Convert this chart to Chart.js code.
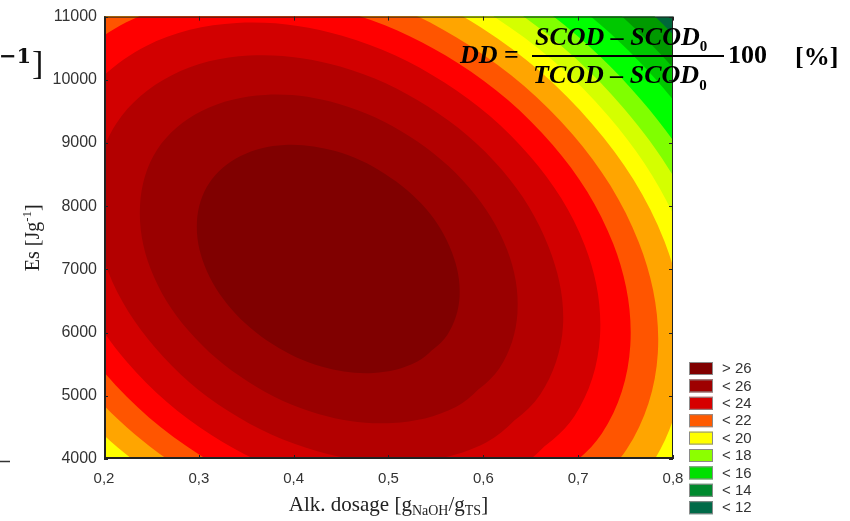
<!DOCTYPE html>
<html>
<head>
<meta charset="utf-8">
<script src="https://cdn.jsdelivr.net/npm/chart.js@4.4.1/dist/chart.umd.min.js"></script>
<style>
  html, body { margin: 0; padding: 0; background: #fff; }
  canvas { display: block; }
</style>
</head>
<body>
<canvas id="chart" width="850" height="521"></canvas>
<script>
// axis ticks
const xTicks = [0.2, 0.3, 0.4, 0.5, 0.6, 0.7, 0.8];
const yTicks = [4000, 5000, 6000, 7000, 8000, 9000, 10000, 11000];

// legend as printed next to the plot
const legendLabels = ['> 26', '< 26', '< 24', '< 22', '< 20', '< 18', '< 16', '< 14', '< 12'];
const legendColors = ['#800000', '#9e0000', '#d60000', '#ff5a00', '#ffff00', '#8cff00', '#00e000', '#008a2e', '#006a48'];

// contour lines, [alk. dosage, Es], innermost first
const c0 = [[0.562, 5962], [0.530, 5537], [0.484, 5360], [0.430, 5458], [0.378, 5815], [0.334, 6378], [0.306, 7061], [0.298, 7760],
  [0.311, 8368], [0.344, 8793], [0.390, 8970], [0.444, 8872], [0.496, 8515], [0.540, 7952], [0.567, 7269], [0.575, 6570]];
const c1 = [[0.617, 5435], [0.571, 4823], [0.504, 4569], [0.427, 4709], [0.352, 5223], [0.289, 6033], [0.249, 7016], [0.238, 8020],
  [0.256, 8895], [0.303, 9507], [0.370, 9761], [0.447, 9621], [0.522, 9107], [0.585, 8297], [0.625, 7314], [0.636, 6310]];
const c2 = [[0.660, 5020], [0.603, 4262], [0.520, 3947], [0.425, 4121], [0.331, 4758], [0.254, 5762], [0.204, 6980], [0.190, 8225],
  [0.213, 9310], [0.271, 10068], [0.353, 10383], [0.449, 10209], [0.542, 9572], [0.620, 8568], [0.669, 7350], [0.684, 6105]];
const c3 = [[0.696, 4677], [0.630, 3798], [0.534, 3431], [0.423, 3633], [0.314, 4373], [0.224, 5538], [0.167, 6950], [0.150, 8395],
  [0.177, 9653], [0.244, 10532], [0.340, 10899], [0.451, 10697], [0.559, 9957], [0.649, 8793], [0.707, 7380], [0.723, 5935]];
const c4 = [[0.725, 4402], [0.651, 3425], [0.544, 3018], [0.421, 3242], [0.301, 4064], [0.201, 5357], [0.137, 6927], [0.118, 8531],
  [0.149, 9928], [0.223, 10905], [0.329, 11312], [0.452, 11088], [0.573, 10266], [0.673, 8973], [0.737, 7404], [0.755, 5799]];
const c5 = [[0.751, 4151], [0.670, 3086], [0.554, 2642], [0.420, 2887], [0.288, 3783], [0.179, 5194], [0.110, 6905], [0.090, 8655],
  [0.123, 10179], [0.203, 11244], [0.320, 11688], [0.454, 11443], [0.585, 10547], [0.694, 9137], [0.764, 7425], [0.784, 5675]];
const c6 = [[0.777, 3905], [0.689, 2752], [0.564, 2272], [0.418, 2537], [0.276, 3506], [0.158, 5032], [0.083, 6884], [0.061, 8777],
  [0.097, 10425], [0.184, 11578], [0.310, 12058], [0.455, 11793], [0.598, 10824], [0.715, 9298], [0.791, 7446], [0.812, 5553]];
const c7 = [[0.797, 3711], [0.704, 2490], [0.571, 1981], [0.417, 2262], [0.267, 3289], [0.142, 4905], [0.062, 6867], [0.039, 8873],
  [0.077, 10619], [0.169, 11840], [0.302, 12349], [0.456, 12068], [0.607, 11041], [0.732, 9425], [0.812, 7463], [0.835, 5457]];
const c8 = [[0.817, 3517], [0.719, 2228], [0.579, 1691], [0.416, 1987], [0.257, 3071], [0.125, 4779], [0.041, 6850], [0.017, 8969],
  [0.057, 10813], [0.154, 12102], [0.295, 12639], [0.457, 12343], [0.617, 11259], [0.748, 9551], [0.833, 7480], [0.857, 5362]];
const c9 = [[0.839, 3305], [0.736, 1941], [0.587, 1373], [0.415, 1686], [0.247, 2834], [0.107, 4640], [0.018, 6832], [-0.008, 9073],
  [0.034, 11025], [0.138, 12389], [0.287, 12957], [0.458, 12644], [0.627, 11496], [0.766, 9690], [0.856, 7498], [0.881, 5257]];
const c10 = [[0.867, 3034], [0.757, 1574], [0.597, 966], [0.414, 1301], [0.233, 2529], [0.084, 4463], [-0.012, 6808], [-0.039, 9208],
  [0.006, 11296], [0.117, 12756], [0.276, 13364], [0.460, 13029], [0.640, 11801], [0.790, 9867], [0.885, 7522], [0.913, 5123]];
const c11 = [[0.892, 2796], [0.775, 1252], [0.607, 608], [0.412, 963], [0.222, 2262], [0.064, 4307], [-0.038, 6788], [-0.066, 9325],
  [-0.019, 11534], [0.098, 13078], [0.267, 13722], [0.461, 13367], [0.652, 12068], [0.810, 10023], [0.911, 7542], [0.940, 5005]];
const c12 = [[0.919, 2539], [0.795, 904], [0.617, 222], [0.411, 598], [0.209, 1973], [0.042, 4139], [-0.065, 6766], [-0.096, 9453],
  [-0.046, 11792], [0.078, 13427], [0.257, 14108], [0.463, 13732], [0.665, 12357], [0.832, 10192], [0.939, 7564], [0.970, 4878]];

const contours = [c0, c1, c2, c3, c4, c5, c6, c7, c8, c9, c10, c11, c12];
// colour inside each contour; the last one is the lowest band (upper right corner)
const bandColors = ['#800000', '#9a0000', '#b30000', '#d20000', '#ff0000', '#ff5500', '#ffa500',
  '#ffff00', '#d4ff00', '#80ff00', '#00ff00', '#00c800', '#009a00', '#00663a'];

const SANS = "'Liberation Sans', Arial, sans-serif";
const SERIF = "'Liberation Serif', 'Times New Roman', serif";

// draw a row of text pieces with their own fonts / baseline shifts
function drawRuns(ctx, runs, x, y, center) {
    let total = 0;
    runs.forEach(r => { ctx.font = r.font; r.w = ctx.measureText(r.text).width; total += r.w; });
    let cx = center ? x - total / 2 : x;
    runs.forEach(r => {
        ctx.font = r.font;
        ctx.fillText(r.text, cx, y + (r.dy || 0));
        cx += r.w;
    });
    return total;
}

const decor = {
    id: 'decor',
    beforeDatasetsDraw(chart) {
        const { ctx, chartArea: a } = chart;
        ctx.save();
        ctx.fillStyle = bandColors[bandColors.length - 1];
        ctx.fillRect(a.left, a.top, a.width, a.height);
        ctx.restore();
    },
    afterDraw(chart) {
        const { ctx, chartArea: a, scales } = chart;
        ctx.save();

        // frame with inward ticks on all four sides
        ctx.strokeStyle = '#222';
        ctx.lineWidth = 1;
        ctx.strokeRect(a.left + 0.5, a.top + 0.5, a.width - 1, a.height - 1);
        ctx.lineWidth = 2;
        ctx.beginPath();
        ctx.moveTo(a.left + 1, a.top);
        ctx.lineTo(a.left + 1, a.bottom - 1);
        ctx.lineTo(a.right, a.bottom - 1);
        ctx.stroke();
        ctx.lineWidth = 1;
        ctx.beginPath();
        scales.x.ticks.forEach(t => {
            const px = Math.round(scales.x.getPixelForValue(t.value)) + 0.5;
            ctx.moveTo(px, a.bottom); ctx.lineTo(px, a.bottom - 4);
            ctx.moveTo(px, a.top); ctx.lineTo(px, a.top + 4);
        });
        scales.y.ticks.forEach(t => {
            const py = Math.round(scales.y.getPixelForValue(t.value)) + 0.5;
            ctx.moveTo(a.left, py); ctx.lineTo(a.left + 4, py);
            ctx.moveTo(a.right, py); ctx.lineTo(a.right - 4, py);
        });
        ctx.stroke();

        // axis titles
        ctx.fillStyle = '#222';
        ctx.textBaseline = 'alphabetic';
        drawRuns(ctx, [
            { text: 'Alk. dosage [g', font: `21px ${SERIF}` },
            { text: 'NaOH', font: `14px ${SERIF}`, dy: 4 },
            { text: '/g', font: `21px ${SERIF}` },
            { text: 'TS', font: `14px ${SERIF}`, dy: 4 },
            { text: ']', font: `21px ${SERIF}` }
        ], (a.left + a.right) / 2, 511, true);

        ctx.save();
        ctx.translate(39, (a.top + a.bottom) / 2);
        ctx.rotate(-Math.PI / 2);
        drawRuns(ctx, [
            { text: 'Es [Jg', font: `20px ${SERIF}` },
            { text: '-1', font: `13px ${SERIF}`, dy: -8 },
            { text: ']', font: `20px ${SERIF}` }
        ], 0, 0, true);
        ctx.restore();

        // legend
        ctx.textBaseline = 'middle';
        ctx.font = `15px ${SANS}`;
        legendLabels.forEach((lab, i) => {
            const top = 362 + i * 17.4;
            ctx.fillStyle = legendColors[i];
            ctx.fillRect(689, top, 24, 13);
            ctx.strokeStyle = '#8a8a8a';
            ctx.strokeRect(689.5, top + 0.5, 23, 12);
            ctx.fillStyle = '#333';
            ctx.fillText(lab, 722, top + 7);
        });

        // formula overlay
        ctx.fillStyle = '#000';
        ctx.textBaseline = 'alphabetic';
        const bi = `italic bold 26px ${SERIF}`;
        const b = `bold 26px ${SERIF}`;
        const sub = `bold 15px ${SERIF}`;
        drawRuns(ctx, [{ text: 'DD', font: bi }, { text: ' = ', font: b }], 460, 63, false);
        drawRuns(ctx, [{ text: 'SCOD – SCOD', font: bi }, { text: '0', font: sub, dy: 6 }], 535, 45, false);
        drawRuns(ctx, [{ text: 'TCOD – SCOD', font: bi }, { text: '0', font: sub, dy: 7 }], 533, 83, false);
        ctx.fillRect(532, 55, 192, 2);
        drawRuns(ctx, [{ text: '100', font: b }], 728, 63, false);
        drawRuns(ctx, [{ text: '[%]', font: b }], 795, 65, false);

        // fragment of the neighbouring figure at the left edge
        ctx.fillStyle = '#111';
        drawRuns(ctx, [{ text: '−1', font: "bold 21px 'DejaVu Serif', serif" }], -1, 63, false);
        drawRuns(ctx, [{ text: ']', font: `34px ${SERIF}` }], 32, 74, false);
        ctx.strokeStyle = '#333';
        ctx.lineWidth = 1.5;
        ctx.beginPath();
        ctx.moveTo(0, 461.5); ctx.lineTo(10, 461.5);
        ctx.stroke();

        ctx.restore();
    }
};

// each contour is a closed line filled as a shape; inner ones are drawn on top
const datasets = contours.map((pts, i) => ({
    data: pts.concat([pts[0], pts[1]]).map(([x, y]) => ({ x, y })),
    showLine: true,
    fill: 'shape',
    backgroundColor: bandColors[i],
    borderWidth: 0,
    pointRadius: 0,
    tension: 0.35
}));

new Chart(document.getElementById('chart'), {
    type: 'scatter',
    data: { datasets },
    plugins: [decor],
    options: {
        responsive: false,
        animation: false,
        devicePixelRatio: 1,
        layout: { padding: { left: 0, right: 177, top: 10, bottom: 0 } },
        elements: { line: { capBezierPoints: false } },
        plugins: { legend: { display: false }, tooltip: { enabled: false } },
        scales: {
            x: {
                type: 'linear',
                min: 0.2,
                max: 0.8,
                afterBuildTicks: s => { s.ticks = xTicks.map(value => ({ value })); },
                afterFit: s => { s.height = 62; },
                grid: { display: false, drawTicks: false },
                border: { display: false },
                ticks: {
                    padding: 11,
                    color: '#333',
                    font: { family: SANS, size: 15 },
                    callback: v => v.toFixed(1).replace('.', ',')
                }
            },
            y: {
                type: 'linear',
                min: 4000,
                max: 11000,
                afterBuildTicks: s => { s.ticks = yTicks.map(value => ({ value })); },
                afterFit: s => { s.width = 104; },
                grid: { display: false, drawTicks: false },
                border: { display: false },
                ticks: {
                    padding: 7,
                    color: '#333',
                    font: { family: SANS, size: 16 },
                    callback: v => String(v)
                }
            }
        }
    }
});
</script>
</body>
</html>
